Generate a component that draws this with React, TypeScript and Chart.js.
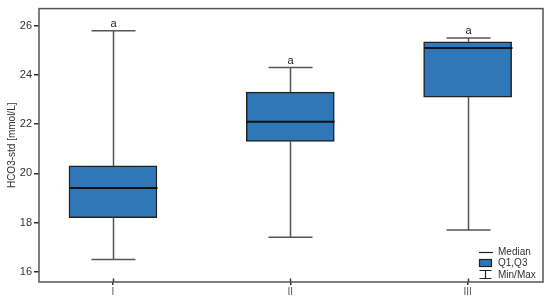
import React, { useEffect, useRef } from "react";
import { Chart, registerables } from "chart.js";

Chart.register(...registerables);

const categories = ["I", "II", "III"];
const mins = [16.5, 17.4, 17.7];
const q1s = [18.2, 21.3, 23.1];
const medians = [19.4, 22.1, 25.1];
const q3s = [20.3, 23.3, 25.35];
const maxs = [25.8, 24.3, 25.5];
const letters = ["a", "a", "a"];
const yTicks = [16, 18, 20, 22, 24, 26];

const FONT = "'Liberation Sans', Arial, sans-serif";
const BOX_COLOR = "#2f77b7";

const boxPlugin = {
  id: "boxExtras",
  afterDatasetsDraw(chart: any) {
    const { ctx, chartArea } = chart;
    const xs = chart.scales.x;
    const ys = chart.scales.y;
    const halfBox = 44;
    const halfCap = 22;
    ctx.save();
    categories.forEach((_, i) => {
      const px = Math.round(xs.getPixelForValue(i + 1)) + 0.5;
      const yMin = ys.getPixelForValue(mins[i]);
      const yQ1 = ys.getPixelForValue(q1s[i]);
      const yMed = ys.getPixelForValue(medians[i]);
      const yQ3 = ys.getPixelForValue(q3s[i]);
      const yMax = ys.getPixelForValue(maxs[i]);
      ctx.strokeStyle = "#555";
      ctx.lineWidth = 1.5;
      ctx.beginPath();
      ctx.moveTo(px, yQ3);
      ctx.lineTo(px, yMax);
      ctx.moveTo(px, yQ1);
      ctx.lineTo(px, yMin);
      ctx.moveTo(px - halfCap, yMax);
      ctx.lineTo(px + halfCap, yMax);
      ctx.moveTo(px - halfCap, yMin);
      ctx.lineTo(px + halfCap, yMin);
      ctx.stroke();
      ctx.strokeStyle = "#111";
      ctx.lineWidth = 2;
      ctx.beginPath();
      ctx.moveTo(px - halfBox, yMed);
      ctx.lineTo(px + halfBox, yMed);
      ctx.stroke();
      ctx.fillStyle = "#222";
      ctx.font = `11px ${FONT}`;
      ctx.textAlign = "center";
      ctx.textBaseline = "middle";
      ctx.fillText(letters[i], px, yMax - 7);
      // inner part of x tick mark (crosses the axis line)
      ctx.strokeStyle = "#333";
      ctx.lineWidth = 1.5;
      ctx.beginPath();
      ctx.moveTo(px, chartArea.bottom - 3.5);
      ctx.lineTo(px, chartArea.bottom);
      ctx.stroke();
    });
    // frame
    ctx.strokeStyle = "#555";
    ctx.lineWidth = 1.5;
    ctx.strokeRect(chartArea.left, chartArea.top, chartArea.right - chartArea.left, chartArea.bottom - chartArea.top);
    // legend
    ctx.font = `10px ${FONT}`;
    ctx.fillStyle = "#333";
    ctx.textAlign = "left";
    ctx.textBaseline = "middle";
    ctx.strokeStyle = "#222";
    ctx.lineWidth = 1.2;
    ctx.beginPath();
    ctx.moveTo(479, 252.5);
    ctx.lineTo(493, 252.5);
    ctx.stroke();
    ctx.fillText("Median", 498, 252.5);
    ctx.fillStyle = BOX_COLOR;
    ctx.fillRect(479.5, 259.5, 12, 7);
    ctx.strokeStyle = "#222";
    ctx.strokeRect(479.5, 259.5, 12, 7);
    ctx.fillStyle = "#333";
    ctx.fillText("Q1,Q3", 498, 263);
    ctx.beginPath();
    ctx.moveTo(479.5, 270.5);
    ctx.lineTo(491.5, 270.5);
    ctx.moveTo(485.5, 270.5);
    ctx.lineTo(485.5, 278.5);
    ctx.moveTo(479.5, 278.5);
    ctx.lineTo(491.5, 278.5);
    ctx.stroke();
    ctx.fillText("Min/Max", 498, 275);
    ctx.restore();
  },
};

export default function App() {
  const ref = useRef<HTMLCanvasElement>(null);
  useEffect(() => {
    if (!ref.current) return;
    const chart = new Chart(ref.current, {
      type: "bar",
      data: {
        datasets: [
          {
            label: "Q1,Q3",
            data: categories.map((_, i) => ({ x: i + 1, y: [q1s[i], q3s[i]] })) as any,
            backgroundColor: BOX_COLOR,
            borderColor: "#222",
            borderWidth: 1.5,
            borderSkipped: false,
            barThickness: 88,
          },
        ],
      },
      options: {
        responsive: false,
        animation: false,
        devicePixelRatio: 1,
        layout: { padding: { top: 7, right: 7, left: 0, bottom: 0 } },
        plugins: { legend: { display: false }, tooltip: { enabled: false } },
        scales: {
          x: {
            type: "linear",
            min: 0.583,
            max: 3.425,
            offset: false,
            border: { display: false },
            grid: { offset: false, drawOnChartArea: false, drawTicks: true, tickLength: 3, tickColor: "#333", lineWidth: 1.5 },
            afterBuildTicks: (s: any) => {
              s.ticks = categories.map((_, i) => ({ value: i + 1 }));
            },
            afterFit: (s: any) => {
              s.height = 20;
            },
            ticks: {
              padding: 1,
              color: "#555",
              font: { family: FONT, size: 10 },
              callback: (v: any) => categories[Number(v) - 1] ?? "",
            },
          },
          y: {
            type: "linear",
            min: 15.58,
            max: 26.7,
            border: { display: false },
            grid: { drawOnChartArea: false, drawTicks: true, tickLength: 5, tickColor: "#333", lineWidth: 1.5 },
            afterBuildTicks: (s: any) => {
              s.ticks = yTicks.map((v) => ({ value: v }));
            },
            afterFit: (s: any) => {
              s.width = 39;
            },
            ticks: {
              padding: 2,
              color: "#333",
              font: { family: FONT, size: 11 },
            },
            title: {
              display: true,
              text: "HCO3-std [mmol/L]",
              color: "#333",
              font: { family: FONT, size: 10 },
              padding: { top: 6, bottom: 0 },
            },
          },
        },
      },
      plugins: [boxPlugin],
    });
    return () => chart.destroy();
  }, []);
  return (
    <div style={{ position: "fixed", left: 0, top: 0, width: 550, height: 302, background: "#fff" }}>
      <canvas ref={ref} width={550} height={302} style={{ display: "block" }} />
    </div>
  );
}
